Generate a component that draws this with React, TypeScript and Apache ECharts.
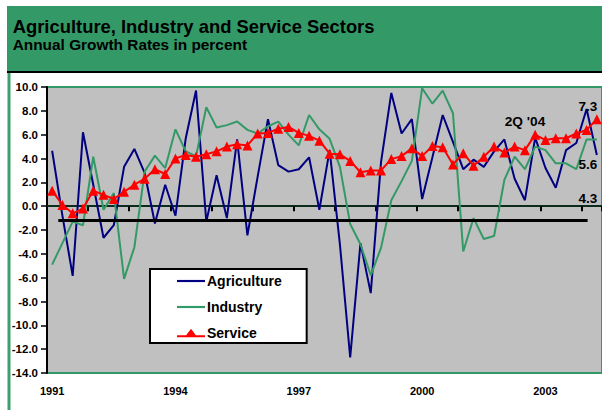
import React, { useEffect, useRef } from 'react';
import * as echarts from 'echarts';

const years = ['1991', '1992', '1993', '1994', '1995', '1996', '1997', '1998', '1999', '2000', '2001', '2002', '2003', '2004'];
const quarterNames = ['Q1', 'Q2', 'Q3', 'Q4'];
const categories = years.flatMap((y) => quarterNames.map((q) => `${y} ${q}`)).slice(0, 54);

const agriculture = [
  4.65, -0.8, -5.85, 6.2, 1.8, -2.65, -1.6, 3.3, 4.8, 2.8, -1.45, 1.8,
  -0.8, 5.7, 9.7, -1.3, 2.6, -1.0, 5.6, -2.45, 2.5, 7.3, 3.45, 2.9,
  3.1, 4.1, -0.3, 4.7, -3.2, -12.7, -3.1, -7.3, 3.7, 9.5, 6.1, 7.3,
  0.6, 4.1, 7.65, 5.4, 3.1, 3.9, 3.3, 4.6, 5.6, 2.3, 0.5, 5.75,
  3.2, 1.55, 4.7, 5.3, 8.15, 4.3,
];
const industry = [
  -4.9, -3.1, -1.3, -1.6, 4.15, -0.3, 1.1, -6.1, -3.45, 2.9, 4.24, 3.2,
  6.45, 4.6, 4.2, 8.3, 6.6, 6.8, 7.1, 6.4, 6.1, 6.7, 7.1, 6.0,
  5.1, 7.65, 6.45, 5.65, 3.3, -1.5, -3.2, -5.8, -3.5, 0.5, 2.1, 3.8,
  9.9, 8.6, 9.7, 7.8, -3.8, -1.0, -2.75, -2.5, 2.2, 4.15, 3.1, 5.0,
  4.7, 3.6, 3.6, 3.1, 5.6, 5.6,
];
const service = [
  1.3, 0.1, -0.6, -0.2, 1.3, 0.95, 0.6, 1.2, 1.8, 2.3, 3.1, 2.7,
  4.0, 4.3, 4.15, 4.35, 4.6, 5.0, 5.2, 5.1, 6.1, 6.15, 6.5, 6.65,
  6.15, 5.9, 5.5, 4.4, 4.35, 3.8, 2.85, 3.0, 3.0, 3.95, 4.2, 4.85,
  4.2, 5.05, 4.95, 3.5, 4.45, 3.4, 4.15, 5.0, 4.5, 5.0, 4.7, 6.0,
  5.55, 5.7, 5.7, 6.1, 6.4, 7.3,
];
// reference line (value -1.2) across the period, in quarter units
const referenceLine = [[1.1, -1.2], [52.6, -1.2]];

const seriesNames = ['Agriculture', 'Industry', 'Service'];
const titleText = 'Agriculture, Industry and Service Sectors';
const subtitleText = 'Annual Growth Rates in percent';
const periodLabel = "2Q '04";

const FONT = '"Liberation Sans", Arial, sans-serif';
const GREEN = '#339966';
const LINE_ICON = 'path://M0,0 L26,0 L26,2 L0,2 Z';
const TRI_ICON = 'path://M0,5 L8.5,5 L13,-1 L17.5,5 L26,5 L26,7 L0,7 Z';

export default function App() {
  const ref = useRef<HTMLDivElement>(null);
  useEffect(() => {
    if (!ref.current) return;
    const chart = echarts.init(ref.current, undefined, { renderer: 'svg' });
    const last = (a: number[]) => a[a.length - 1].toFixed(1);
    const txt = (text: string, x: number, y: number, size: number, align = 'left') => ({
      type: 'text',
      x,
      y,
      z: 100,
      style: { text, fill: '#000', font: `bold ${size}px ${FONT}`, textAlign: align, textVerticalAlign: 'middle' },
    });
    chart.setOption({
      animation: false,
      backgroundColor: '#ffffff',
      textStyle: { fontFamily: FONT },
      graphic: [
        { type: 'rect', shape: { x: 7, y: 6, width: 600, height: 66 }, style: { fill: GREEN }, z: 0 },
        { type: 'rect', shape: { x: 7, y: 71, width: 600, height: 2 }, style: { fill: '#000' }, z: 1 },
        { type: 'rect', shape: { x: 7.5, y: 73, width: 3, height: 340 }, style: { fill: '#3d9f6f' }, z: 1 },
        txt(titleText, 12.7, 26.3, 18.4),
        txt(subtitleText, 12.7, 44.4, 15.4),
        txt(periodLabel, 525, 121, 13.7, 'center'),
        txt(last(service), 588, 106, 13.5, 'center'),
        txt(last(industry), 588, 164, 13.5, 'center'),
        txt(last(agriculture), 588, 198, 13.5, 'center'),
      ],
      legend: {
        orient: 'vertical',
        left: 150,
        top: 269,
        data: [
          { name: seriesNames[0], icon: LINE_ICON },
          { name: seriesNames[1], icon: LINE_ICON },
          { name: seriesNames[2], icon: TRI_ICON },
        ],
        backgroundColor: '#fff',
        borderColor: '#000',
        borderWidth: 2,
        borderRadius: 0,
        padding: [5, 25, 3, 27],
        itemWidth: 28,
        itemHeight: 14,
        itemGap: 12,
        textStyle: { fontSize: 14, fontWeight: 'bold', color: '#000', fontFamily: FONT, padding: [0, 0, 0, -3] },
      },
      grid: {
        left: 47,
        top: 87,
        width: 558.4,
        height: 286,
        show: true,
        backgroundColor: '#c0c0c0',
        borderColor: GREEN,
        borderWidth: 2,
        containLabel: false,
      },
      xAxis: [
        {
          type: 'category',
          data: categories,
          boundaryGap: true,
          axisLine: { show: true, lineStyle: { color: '#0d2b1c', width: 2 } },
          axisTick: { show: true, interval: 3, length: 5, lineStyle: { color: '#000', width: 2 } },
          axisLabel: {
            interval: 11,
            formatter: (v: string) => v.slice(0, 4),
            fontSize: 11,
            fontWeight: 'bold',
            color: '#000',
            fontFamily: FONT,
            margin: 12,
          },
          splitLine: { show: false },
        },
        { type: 'value', min: 0, max: 54, show: false },
      ],
      yAxis: {
        type: 'value',
        min: -14,
        max: 10,
        interval: 2,
        axisLine: { show: true, lineStyle: { color: '#000', width: 2 } },
        axisTick: { show: true, length: 6, lineStyle: { color: '#000', width: 1.5 } },
        axisLabel: {
          formatter: (v: number) => v.toFixed(1),
          fontSize: 11.5,
          fontWeight: 'bold',
          color: '#000',
          fontFamily: FONT,
          margin: 9,
        },
        splitLine: { show: false },
      },
      series: [
        {
          name: seriesNames[0],
          type: 'line',
          data: agriculture,
          symbol: 'none',
          lineStyle: { color: '#000080', width: 2 },
          itemStyle: { color: '#000080' },
        },
        {
          name: seriesNames[1],
          type: 'line',
          data: industry,
          symbol: 'none',
          lineStyle: { color: GREEN, width: 2 },
          itemStyle: { color: GREEN },
        },
        {
          type: 'line',
          xAxisIndex: 1,
          data: referenceLine,
          symbol: 'none',
          silent: true,
          lineStyle: { color: '#000', width: 3 },
        },
        {
          name: seriesNames[2],
          type: 'line',
          data: service,
          symbol: 'triangle',
          symbolSize: 10,
          showAllSymbol: true,
          lineStyle: { color: '#ff0000', width: 2 },
          itemStyle: { color: '#ff0000' },
        },
      ],
    });
    return () => chart.dispose();
  }, []);
  return <div ref={ref} style={{ position: 'fixed', left: 0, top: 0, width: 602, height: 410 }} />;
}
